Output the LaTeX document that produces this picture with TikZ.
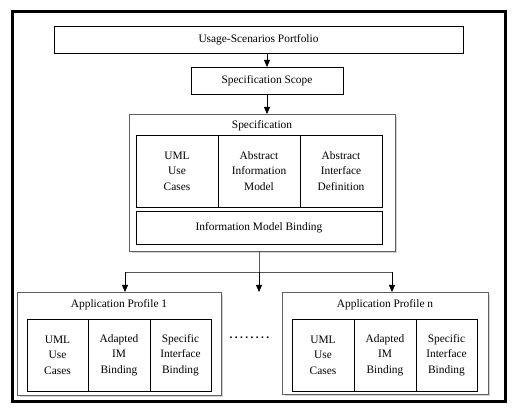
\documentclass[tikz,border=0pt]{standalone}
\usepackage{fontspec}
\setmainfont{Liberation Serif}
\usetikzlibrary{calc,arrows.meta}
\begin{document}
\begin{tikzpicture}[x=1pt,y=-1pt,
  every node/.style={inner sep=0pt,outer sep=0pt,font=\fontsize{11.4}{15.5}\selectfont,align=center},
  box/.style={draw=black,line width=0.8pt,rectangle},
  group/.style={draw=gray!75!black,line width=0.8pt,rectangle},
  shade/.style={draw=gray!35,line width=1.6pt},
  conn/.style={draw=gray!70!black,line width=0.9pt},
  blackarr/.style={draw=black,line width=0.8pt,-{Triangle[length=7pt,width=6pt]}}]
\useasboundingbox (0,0) rectangle (517,411);
\fill[white] (0,0) rectangle (517,411);
% outer frame
\draw[line width=3pt] (12,11.5) rectangle (505,401.5);

% top boxes
\node[box,minimum width=409pt,minimum height=27pt] (usp) at (258.5,39.5) {Usage-Scenarios Portfolio};
\node[box,minimum width=152pt,minimum height=27pt] (scope) at (267,80.5) {Specification Scope};

% specification group
\draw[shade] (396.5,117) -- (396.5,252.5) -- (132,252.5);
\node[group,minimum width=266pt,minimum height=137pt] (spec) at (262,182.5) {};
\node (spectitle) at (262,126) {Specification};
\node[box,minimum width=82pt,minimum height=72pt] (uml) at (177,171) {UML\\Use\\Cases};
\node[box,minimum width=82pt,minimum height=72pt] (aim) at (259,171) {Abstract\\Information\\Model};
\node[box,minimum width=82pt,minimum height=72pt] (aid) at (341,171) {Abstract\\Interface\\Definition};
\node[box,minimum width=246pt,minimum height=33pt] (imb) at (259,227.5) {Information Model Binding};

% application profile 1
\draw[shade] (222.5,295) -- (222.5,396.5) -- (20,396.5);
\node[group,minimum width=204pt,minimum height=103pt] (p1) at (119,343.5) {};
\node (p1title) at (119,305) {Application Profile 1};
\node[box,minimum width=61pt,minimum height=72pt] (p1a) at (57.5,355) {UML\\Use\\Cases};
\node[box,minimum width=62pt,minimum height=72pt] (p1b) at (119,355) {Adapted\\IM\\Binding};
\node[box,minimum width=61pt,minimum height=72pt] (p1c) at (180.5,355) {Specific\\Interface\\Binding};

% application profile n
\draw[shade] (489.5,295) -- (489.5,395.5) -- (285,395.5);
\node[group,minimum width=206pt,minimum height=102pt] (pn) at (385,343) {};
\node (pntitle) at (385,305) {Application Profile n};
\node[box,minimum width=62pt,minimum height=72pt] (pna) at (323,355) {UML\\Use\\Cases};
\node[box,minimum width=62pt,minimum height=72pt] (pnb) at (385,355) {Adapted\\IM\\Binding};
\node[box,minimum width=61pt,minimum height=72pt] (pnc) at (446.5,355) {Specific\\Interface\\Binding};

% dots
\node (dots) at (249.5,338) {\textbf{.\kern2.4pt.\kern2.4pt.\kern2.4pt.\kern2.4pt.\kern2.4pt.\kern2.4pt.\kern2.4pt.}};

% connectors
\draw[blackarr] (scope.north |- usp.south) -- (scope.north);
\draw[blackarr] (scope.south) -- (scope.south |- spec.north);
\coordinate (split) at (259,272);
\coordinate (midend) at (259,292);
\draw[conn] (imb.south |- spec.south) -- (split);
\draw[conn] ($(p1.north)+(6,-20)$) -- ($(pn.north)+(7,-20)$);
\draw[blackarr] ($(p1.north)+(6,-20)$) -- ($(p1.north)+(6,0)$);
\draw[blackarr] ($(pn.north)+(7,-20)$) -- ($(pn.north)+(7,0)$);
\draw[blackarr] (split) -- (midend);
\end{tikzpicture}
\end{document}
